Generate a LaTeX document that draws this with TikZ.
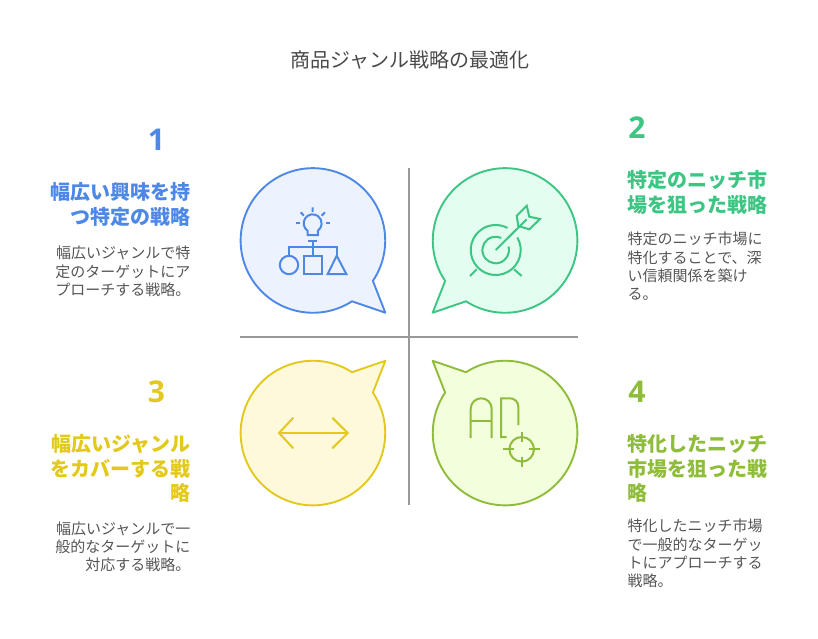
\documentclass[tikz,border=0pt]{standalone}
\usepackage{fontspec}
\usepackage{xcolor}
\setmainfont{Noto Sans CJK JP}
\newfontfamily\numfont{Open Sans}
\definecolor{ink}{HTML}{4A4A4A}
\definecolor{body}{HTML}{555555}
\definecolor{rule}{HTML}{999999}
\definecolor{blue}{HTML}{4E88E7}
\definecolor{bluefill}{HTML}{EDF3FE}
\definecolor{green}{HTML}{3CC583}
\definecolor{greenfill}{HTML}{E3FDF0}
\definecolor{yellow}{HTML}{E3C91B}
\definecolor{yellowfill}{HTML}{FEF9DA}
\definecolor{olive}{HTML}{8FBC3A}
\definecolor{olivefill}{HTML}{F3FEDC}
\tikzset{
  bubble/.style={line width=1.9pt, line join=round},
  icon/.style={line width=2pt, line join=miter},
  crossline/.style={draw=rule, line width=2pt},
  titletext/.style={text=ink, font=\fontsize{20}{24}\selectfont, inner sep=0pt},
  numtext/.style={font=\fontsize{30}{36}\numfont\bfseries, inner sep=0pt},
  headtext/.style={font=\fontsize{20}{24.2}\selectfont\bfseries, inner sep=0pt},
  bodytext/.style={text=body, font=\fontsize{15}{18.2}\selectfont, inner sep=0pt},
}
\begin{document}
\begin{tikzpicture}[x=1pt,y=-1pt]
  \useasboundingbox (0,0) rectangle (818,638);
  % speech bubbles
  \foreach \cx/\cy/\sx/\sy/\col in {313/240.5/1/1/blue, 505/240.5/-1/1/green, 313/433/1/-1/yellow, 505/433/-1/-1/olive} {
    \begin{scope}[shift={(\cx,\cy)}, xscale=\sx, yscale=\sy]
      \draw[bubble, draw=\col, fill=\col fill] (39,60.8) arc[start angle=57.3, end angle=394, radius=72.3]
        -- (72.3,72.2) -- cycle;
    \end{scope}
  }
  \draw[crossline] (409,168) -- (409,505);
  \draw[crossline] (240,337) -- (578,337);

  % bulb and shapes
  \begin{scope}[icon, draw=blue]
    \draw (307.5,235) -- (307.5,230.7) arc[start angle=125, end angle=415, radius=9] -- (318,235) -- cycle;
    \draw (312.7,207.3) -- (312.7,212) (300.7,212.3) -- (304,215.7) (325,212.3) -- (321.7,215.7);
    \draw (295.7,222.7) -- (300,222.7) (326,222.7) -- (330,222.7);
    \draw (308.3,241) -- (317.3,241) (312.7,241) -- (312.7,255.7);
    \draw (289,255.7) -- (289,246.7) -- (336.7,246.7) -- (336.7,255.7);
    \draw (289,265) circle[radius=9.2];
    \draw (303.7,255.7) rectangle (322.3,274);
    \draw (336.7,255.7) -- (327.7,274) -- (346.3,274) -- cycle;
  \end{scope}

  % target
  \begin{scope}[icon, draw=green]
    \draw (495.7,250) ++(330:25) arc[start angle=330, end angle=658, radius=25];
    \draw (495.7,250) ++(345:13.3) arc[start angle=345, end angle=655, radius=13.3];
    \draw (495.7,250) -- (526.7,219.3);
    \draw (516.7,215.7) -- (526.7,205.7) -- (529.3,216.7) -- (540,219) -- (529.3,229.3) -- (518.3,226) -- cycle;
    \draw (476.7,269.3) -- (470,276) (514,269.3) -- (521.7,276);
  \end{scope}

  % double arrow
  \begin{scope}[icon, draw=yellow]
    \draw (279,433) -- (347.7,433);
    \draw (293.3,417.7) -- (279,433) -- (293.3,448.3);
    \draw (332.3,417.7) -- (347.7,433) -- (332.3,448.3);
  \end{scope}

  % letters and crosshair
  \begin{scope}[icon, draw=olive]
    \draw (470.7,438) -- (470.7,408.8) arc[start angle=180, end angle=360, radius=10.5] -- (491.7,438);
    \draw (470.7,421) -- (491.7,421);
    \draw (506.7,437) -- (501,437) -- (501,398.3) -- (510,398.3) arc[start angle=270, end angle=360, radius=8.3] -- (518.3,425);
    \draw (521.7,449.3) circle[radius=12.3];
    \draw (521.7,431.7) -- (521.7,441.7) (521.7,456.7) -- (521.7,467.3);
    \draw (503.3,449.3) -- (514.3,449.3) (529,449.3) -- (540,449.3);
  \end{scope}

  \node[titletext] (title) at (409.5,60) {商品ジャンル戦略の最適化};

  \node[numtext, text=blue] (num1) at (156.5,140) {1};
  \node[headtext, text=blue, align=right, anchor=north east] (head1) at (191,182.5) {幅広い興味を持\\つ特定の戦略};
  \node[bodytext, align=right, anchor=north east] (body1) at (190.5,246) {幅広いジャンルで特\\定のターゲットにア\\プローチする戦略。};

  \node[numtext, text=green] (num2) at (637,128) {2};
  \node[headtext, text=green, align=left, anchor=north west] (head2) at (627.5,170.5) {特定のニッチ市\\場を狙った戦略};
  \node[bodytext, align=left, anchor=north west] (body2) at (627.5,232) {特定のニッチ市場に\\特化することで、深\\い信頼関係を築け\\る。};

  \node[numtext, text=yellow] (num3) at (156.5,392) {3};
  \node[headtext, text=yellow, align=right, anchor=north east] (head3) at (191,434.5) {幅広いジャンル\\をカバーする戦\\略};
  \node[bodytext, align=right, anchor=north east] (body3) at (190.5,521.5) {幅広いジャンルで一\\般的なターゲットに\\対応する戦略。};

  \node[numtext, text=olive] (num4) at (637,392) {4};
  \node[headtext, text=olive, align=left, anchor=north west] (head4) at (627.5,434.5) {特化したニッチ\\市場を狙った戦\\略};
  \node[bodytext, align=left, anchor=north west] (body4) at (627.5,519) {特化したニッチ市場\\で一般的なターゲッ\\トにアプローチする\\戦略。};
\end{tikzpicture}
\end{document}
